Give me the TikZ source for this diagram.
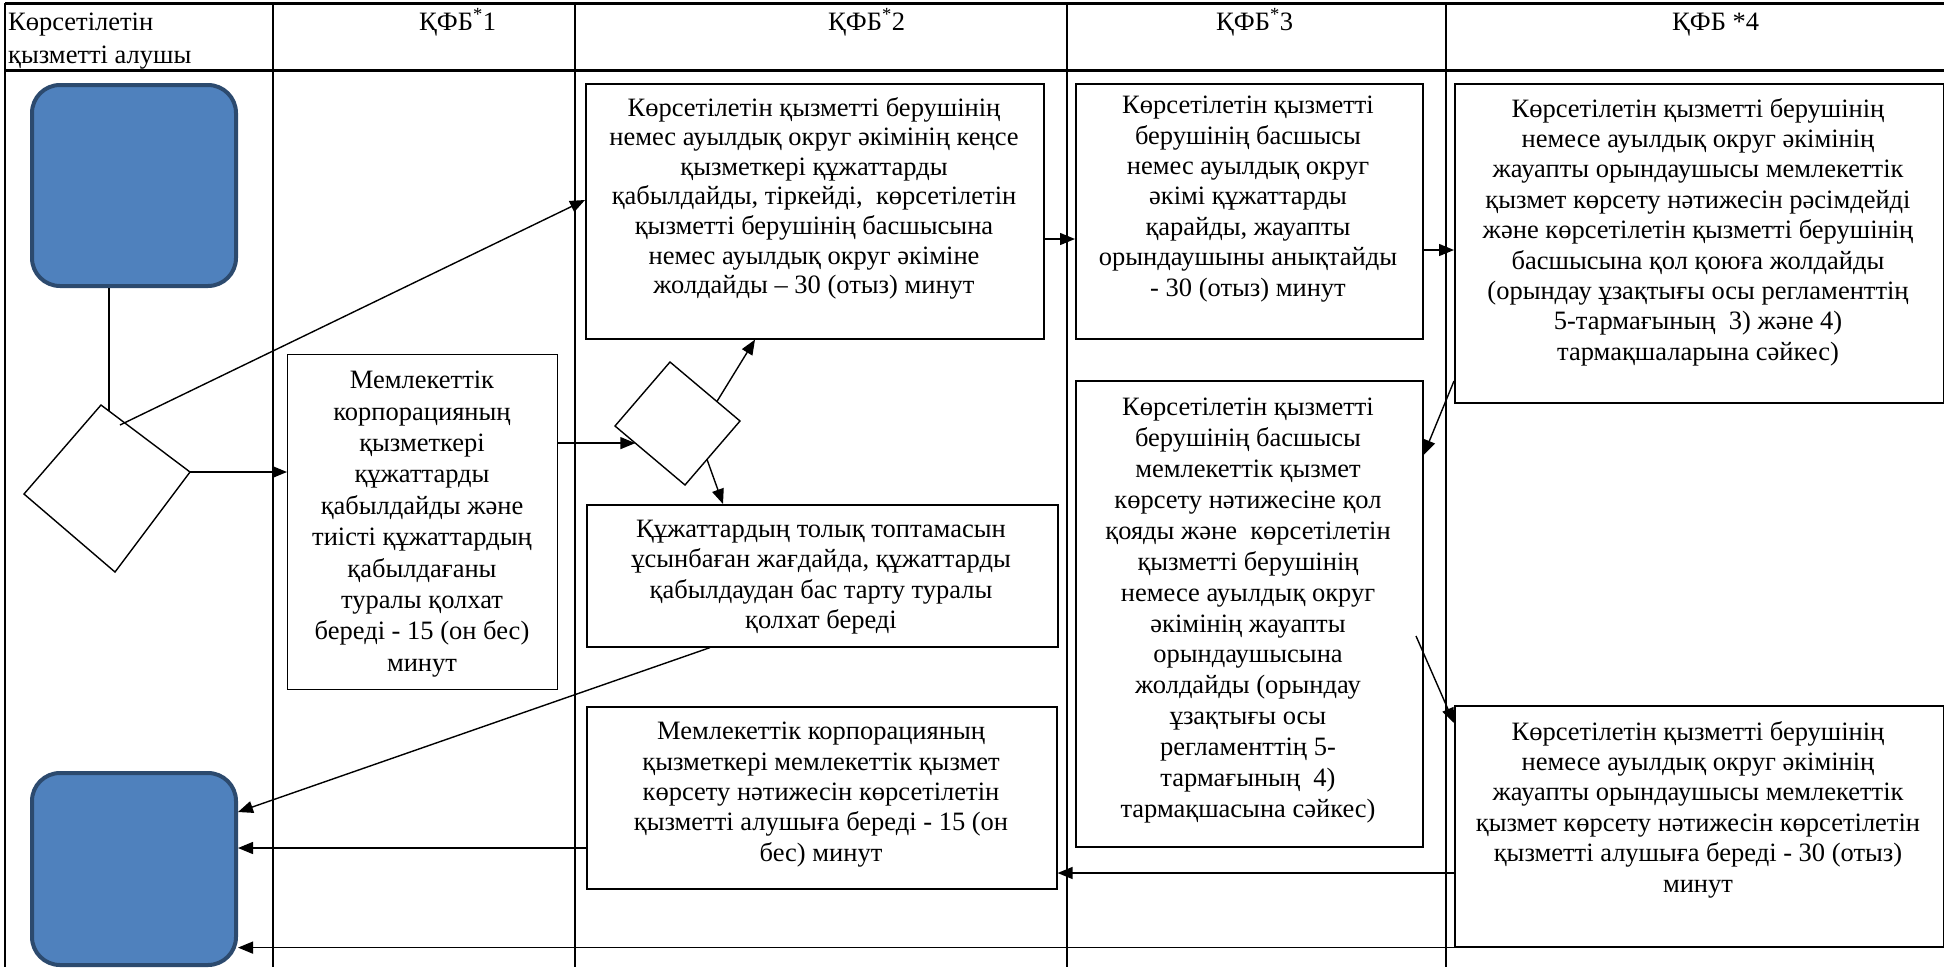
\documentclass[tikz,border=0pt]{standalone}
\usepackage{fontspec}
\setmainfont{Liberation Serif}
\usetikzlibrary{arrows.meta,calc}
\definecolor{bluefill}{HTML}{4F81BD}
\definecolor{blueedge}{HTML}{2C4A6E}
\begin{document}
\begin{tikzpicture}[x=1pt,y=-1pt,
  vline/.style={line width=1.6pt},
  hline/.style={line width=3pt},
  procbox/.style={draw, line width=1.6pt, rectangle, inner sep=0pt, anchor=north west},
  boxtext/.style={inner sep=0pt, align=center, anchor=north, font=\fontsize{26.5}{30.4}\selectfont},
  term/.style={draw=blueedge, fill=bluefill, line width=4pt, rounded corners=28pt, rectangle, inner sep=0pt, anchor=north west},
  flow/.style={line width=1.4pt, -{Triangle[length=15pt,width=12pt]}},
  plainline/.style={line width=1.4pt},
  dia/.style={draw, line width=1.4pt, fill=white},
  headtext/.style={inner sep=0pt, anchor=base west, font=\fontsize{26.5}{33}\selectfont}
]
\useasboundingbox (0,0) rectangle (1944,967);

% table
\draw[hline] (5,3) -- (1944,3);
\draw[hline] (5,70) -- (1944,70);
\foreach \xx in {5,273,575,1067,1446} { \draw[vline] (\xx,3) -- (\xx,967); }

% header texts
\node[headtext] (h0a) at (8,30) {Көрсетілетін};
\node[headtext] (h0b) at (8,63) {қызметті алушы};
\node[headtext] (h1) at (419,30) {ҚФБ\textsuperscript{*}1};
\node[headtext] (h2) at (828,30) {ҚФБ\textsuperscript{*}2};
\node[headtext] (h3) at (1216,30) {ҚФБ\textsuperscript{*}3};
\node[headtext] (h4) at (1672,30) {ҚФБ *4};

% terminals
\node[term, minimum width=204pt, minimum height=201pt] (start) at (30,83) {};
\node[term, minimum width=204pt, minimum height=192pt] (end) at (30,771) {};

% boxes
\node[procbox, line width=1.1pt, minimum width=270pt, minimum height=335pt] (b1) at (287,354) {};
\node[procbox, minimum width=458pt, minimum height=255pt] (b2) at (585,83) {};
\node[procbox, minimum width=471pt, minimum height=142pt] (rj) at (586,504) {};
\node[procbox, minimum width=470pt, minimum height=182pt] (b2b) at (586,706) {};
\node[procbox, minimum width=347pt, minimum height=255pt] (b3) at (1075,83) {};
\node[procbox, minimum width=347pt, minimum height=466pt] (b3m) at (1075,380) {};
\node[procbox, minimum width=489pt, minimum height=319pt] (b4) at (1454,83) {};
\node[procbox, minimum width=489pt, minimum height=241pt] (b4b) at (1454,705) {};

% texts
\node[boxtext, font=\fontsize{26.5}{31.4}\selectfont] (t1) at (422,371) {Мемлекеттік\\корпорацияның\\қызметкері\\құжаттарды\\қабылдайды және\\тиісті құжаттардың\\қабылдағаны\\туралы қолхат\\береді - 15 (он бес)\\минут};
\node[boxtext, font=\fontsize{26.5}{29.6}\selectfont] (t2) at (814,97) {Көрсетілетін қызметті берушінің\\немес ауылдық округ әкімінің кеңсе\\қызметкері құжаттарды\\қабылдайды, тіркейді,\ \ көрсетілетін\\қызметті берушінің басшысына\\немес ауылдық округ әкіміне\\жолдайды – 30 (отыз) минут};
\node[boxtext] (trj) at (821,520) {Құжаттардың толық топтамасын\\ұсынбаған жағдайда, құжаттарды\\қабылдаудан бас тарту туралы\\қолхат береді};
\node[boxtext] (t2b) at (821,722) {Мемлекеттік корпорацияның\\қызметкері мемлекеттік қызмет\\көрсету нәтижесін көрсетілетін\\қызметті алушыға береді - 15 (он\\бес) минут};
\node[boxtext] (t3) at (1248,96) {Көрсетілетін қызметті\\берушінің басшысы\\немес ауылдық округ\\әкімі құжаттарды\\қарайды, жауапты\\орындаушыны анықтайды\\- 30 (отыз) минут};
\node[boxtext, font=\fontsize{26.5}{30.9}\selectfont] (t3m) at (1248,398) {Көрсетілетін қызметті\\берушінің басшысы\\мемлекеттік қызмет\\көрсету нәтижесіне қол\\қояды және\ \ көрсетілетін\\қызметті берушінің\\немесе ауылдық округ\\әкімінің жауапты\\орындаушысына\\жолдайды (орындау\\ұзақтығы осы\\регламенттің 5-\\тармағының\ \ 4)\\тармақшасына сәйкес)};
\node[boxtext] (t4) at (1698,98) {Көрсетілетін қызметті берушінің\\немесе ауылдық округ әкімінің\\жауапты орындаушысы мемлекеттік\\қызмет көрсету нәтижесін рәсімдейді\\және көрсетілетін қызметті берушінің\\басшысына қол қоюға жолдайды\\(орындау ұзақтығы осы регламенттің\\5-тармағының\ \ 3) және 4)\\тармақшаларына сәйкес)};
\node[boxtext] (t4b) at (1698,721) {Көрсетілетін қызметті берушінің\\немесе ауылдық округ әкімінің\\жауапты орындаушысы мемлекеттік\\қызмет көрсету нәтижесін көрсетілетін\\қызметті алушыға береді - 30 (отыз)\\минут};

% diamonds
\coordinate (d1t) at (101,405);
\coordinate (d1r) at (190,472);
\coordinate (d1b) at (115,572);
\coordinate (d1l) at (24,494);
\draw[dia] (d1t) -- (d1r) -- (d1b) -- (d1l) -- cycle;
\coordinate (d2t) at (670,362);
\coordinate (d2r) at (740,421);
\coordinate (d2b) at (685,485);
\coordinate (d2l) at (615,426);
\draw[dia] (d2t) -- (d2r) -- (d2b) -- (d2l) -- cycle;

% connectors
\coordinate (d1top) at ($(d1t)!0.09!(d1r)$);
\draw[plainline] (start.south -| d1top) -- (d1top);
\coordinate (d1a) at (120,425);
\draw[flow] (d1a) -- (b2.west |- 0,200);
\draw[flow] (d1r) -- (b1.west |- d1r);
\coordinate (d2in) at ($(d2l)!0.29!(d2b)$);
\draw[flow] (b1.east |- d2in) -- (d2in);
\coordinate (d2up) at ($(d2t)!0.67!(d2r)$);
\draw[flow] (d2up) -- (b2.south -| 755,0);
\coordinate (d2dn) at ($(d2r)!0.6!(d2b)$);
\draw[flow] (d2dn) -- (rj.north -| 723,0);
\draw[flow] (b2.east |- 0,239) -- (b3.west |- 0,239);
\draw[flow] (b3.east |- 0,250) -- (b4.west |- 0,250);
\draw[flow] (b4.west |- 0,381) -- (b3m.east |- 0,455);
\coordinate (b3mo) at (1416,636);
\draw[flow] (b3mo) -- (b4b.west |- 0,723);
\draw[flow] (b4b.west |- 0,873) -- (b2b.east |- 0,873);
\draw[flow] (rj.south -| 710,0) -- (end.east |- 0,812);
\draw[flow] (b2b.west |- 0,848) -- (end.east |- 0,848);
\draw[flow] (b4b.south west) -- (end.east |- b4b.south west);
\end{tikzpicture}
\end{document}
